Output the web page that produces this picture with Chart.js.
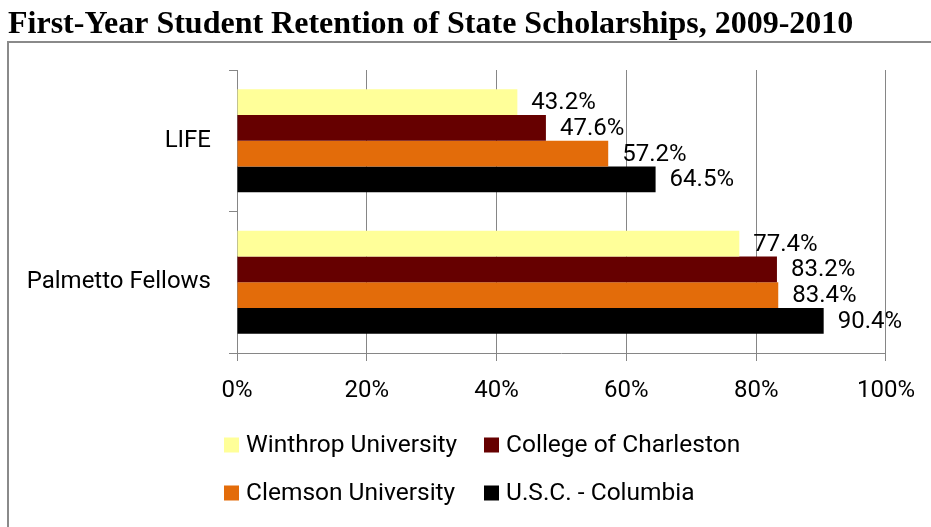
<!DOCTYPE html>
<html>
<head>
<meta charset="utf-8">
<script src="https://cdn.jsdelivr.net/npm/chart.js@4.4.1/dist/chart.umd.min.js"></script>
<style>
  html, body { margin: 0; padding: 0; background: #fff; }
  #wrap { width: 931px; height: 527px; }
</style>
</head>
<body>
<div id="wrap"><canvas id="chart" width="931" height="527"></canvas></div>
<script>
const categories = ['LIFE', 'Palmetto Fellows'];
const schools = ['Winthrop University', 'College of Charleston', 'Clemson University', 'U.S.C. - Columbia'];
const schoolColors = ['#FFFF99', '#660000', '#E36C0A', '#000000'];
const winthrop = [43.2, 77.4];
const charleston = [47.6, 83.2];
const clemson = [57.2, 83.4];
const usc = [64.5, 90.4];
const seriesValues = [winthrop, charleston, clemson, usc];

const font = 'Roboto, "Open Sans", sans-serif';
const axisGray = '#868686';

// grey frame around the chart, like the box in the original document
const framePlugin = {
    id: 'frame',
    beforeDraw(chart) {
        const ctx = chart.ctx;
        ctx.save();
        ctx.strokeStyle = '#8a8a8a';
        ctx.lineWidth = 2;
        ctx.beginPath();
        ctx.moveTo(8, chart.height);
        ctx.lineTo(8, 42);
        ctx.lineTo(chart.width, 42);
        ctx.stroke();
        ctx.restore();
    },
};

// value labels at the end of each bar
const valueLabels = {
    id: 'valueLabels',
    afterDatasetsDraw(chart) {
        const ctx = chart.ctx;
        ctx.save();
        ctx.font = `24px ${font}`;
        ctx.fillStyle = '#000';
        ctx.textAlign = 'left';
        ctx.textBaseline = 'middle';
        chart.data.datasets.forEach((ds, i) => {
            chart.getDatasetMeta(i).data.forEach((bar, j) => {
                ctx.fillText(ds.data[j].toFixed(1) + '%', bar.x + 14, bar.y + 1);
            });
        });
        ctx.restore();
    },
};

// two-column legend (columns line up like the Excel legend)
const gridLegend = {
    id: 'gridLegend',
    afterDraw(chart, args, opts) {
        const ctx = chart.ctx;
        ctx.save();
        ctx.font = `24.5px ${font}`;
        ctx.textBaseline = 'middle';
        ctx.textAlign = 'left';
        chart.data.datasets.forEach((ds, i) => {
            const x = opts.cols[i % 2];
            const y = opts.rows[Math.floor(i / 2)];
            ctx.fillStyle = ds.backgroundColor;
            ctx.fillRect(x, y - opts.box / 2, opts.box, opts.box);
            ctx.fillStyle = '#000';
            ctx.fillText(ds.label, x + opts.box + 7, y + 1);
        });
        ctx.restore();
    },
};

new Chart(document.getElementById('chart'), {
    type: 'bar',
    data: {
        labels: categories,
        datasets: schools.map((name, i) => ({
            label: name,
            data: seriesValues[i],
            backgroundColor: schoolColors[i],
            borderWidth: 0,
            barPercentage: 1,
            categoryPercentage: 0.727,
        })),
    },
    options: {
        indexAxis: 'y',
        responsive: false,
        animation: false,
        layout: { padding: { left: 8, right: 45, top: 0, bottom: 114 } },
        plugins: {
            legend: { display: false },
            tooltip: { enabled: false },
            title: {
                display: true,
                text: 'First-Year Student Retention of State Scholarships, 2009-2010',
                align: 'start',
                color: '#000',
                font: { family: '"Liberation Serif", "Times New Roman", serif', size: 32, weight: 'bold' },
                padding: { top: 6, bottom: 25.6 },
            },
            gridLegend: { cols: [224, 484], rows: [445, 493], box: 15 },
        },
        scales: {
            x: {
                min: 0,
                max: 100,
                ticks: {
                    stepSize: 20,
                    color: '#000',
                    padding: 16,
                    font: { family: font, size: 24 },
                    callback: v => `${v}%`,
                },
                grid: { color: axisGray, tickLength: 8 },
                border: { color: axisGray },
                afterFit: s => { s.height = 60; },
            },
            y: {
                ticks: { color: '#000', padding: 18, font: { family: font, size: 24 } },
                grid: { drawOnChartArea: false, color: axisGray, tickLength: 8 },
                border: { color: axisGray },
                afterFit: s => { s.width = 229; },
            },
        },
    },
    plugins: [framePlugin, valueLabels, gridLegend],
});
</script>
</body>
</html>
